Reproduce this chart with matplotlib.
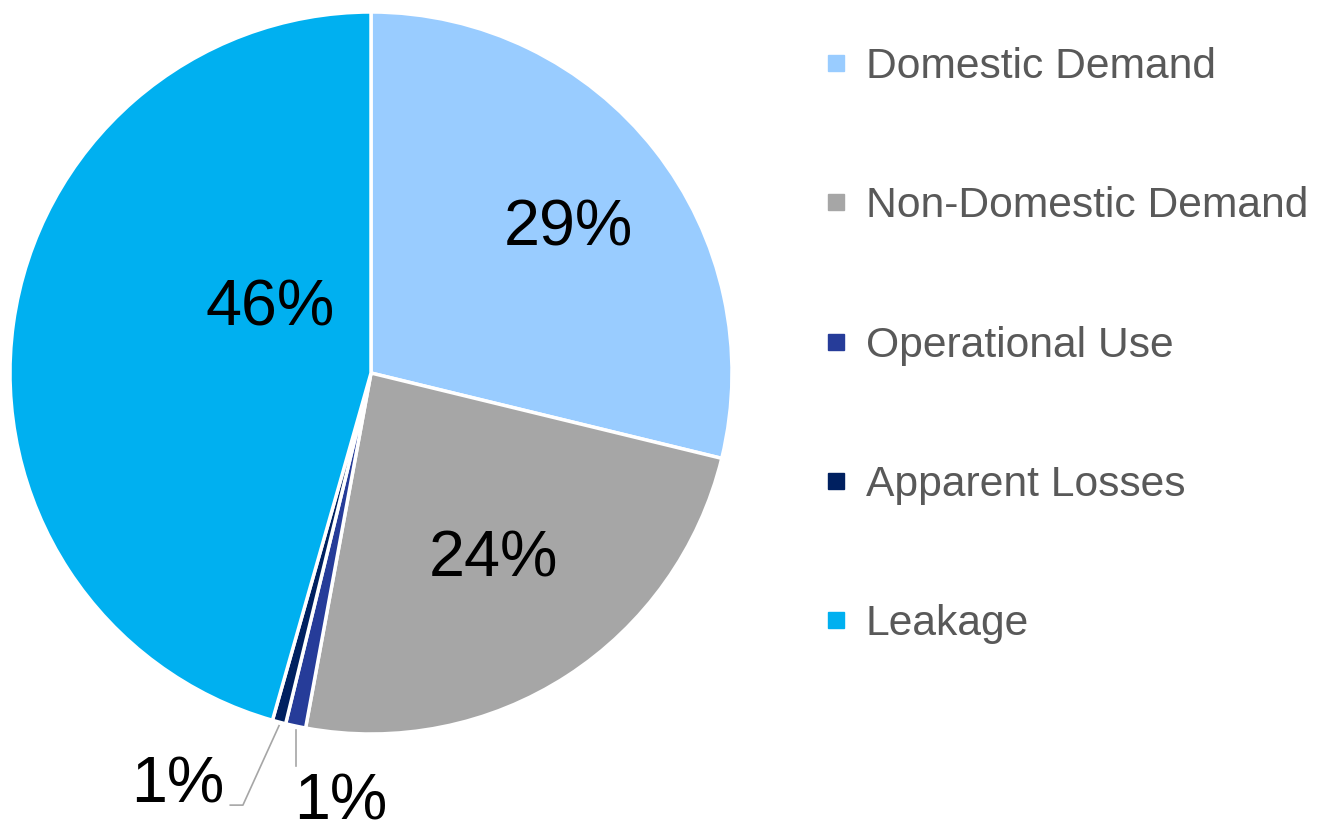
import matplotlib.pyplot as plt
from matplotlib.lines import Line2D
import numpy as np

plt.rcParams['font.family'] = ['Liberation Sans', 'DejaVu Sans']

# data
categories = ["Domestic Demand", "Non-Domestic Demand", "Operational Use",
              "Apparent Losses", "Leakage"]
shares = [28.8, 24.1, 0.9, 0.6, 45.6]
labels = ["29%", "24%", "1%", "1%", "46%"]
colors = ["#99CCFF", "#A6A6A6", "#263C99", "#002060", "#00B0F0"]

W, H = 1326, 830
cx, cy, R = 371, 373, 361

fig = plt.figure(figsize=(W / 100, H / 100), dpi=100)
ax = fig.add_axes([0, 0, 1, 1])

wedges, _ = ax.pie(shares, colors=colors, startangle=90, counterclock=False,
                   radius=1, wedgeprops=dict(edgecolor="white", linewidth=2.5))
ax.set_aspect("auto")
ax.set_xlim(-cx / R, (W - cx) / R)
ax.set_ylim(-(H - cy) / R, cy / R)
ax.axis("off")

def mid(w):
    return np.deg2rad((w.theta1 + w.theta2) / 2)

# big slices: labels inside
ax.text(0.548, 0.40, labels[0], ha="center", va="center", fontsize=46.5)
ax.text(0.338, -0.518, labels[1], ha="center", va="center", fontsize=46.5)
ax.text(-0.28, 0.18, labels[4], ha="center", va="center", fontsize=46.5)

# small slices: leader lines
a = mid(wedges[2])
x0, y0 = np.cos(a), np.sin(a)
ax.plot([x0, x0], [y0 - 0.01, y0 - 0.11], color="#A6A6A6", lw=1.2)
ax.text(x0 + 0.125, y0 - 0.212, labels[2], ha="center", va="center", fontsize=46.5)

a = mid(wedges[3])
x0, y0 = np.cos(a), np.sin(a)
ax.plot([x0, x0 - 0.1, x0 - 0.135], [y0 - 0.01, y0 - 0.23, y0 - 0.23],
        color="#A6A6A6", lw=1.2)
ax.text(x0 - 0.28, y0 - 0.175, labels[3], ha="center", va="center", fontsize=46.5)

handles = [Line2D([], [], marker="s", linestyle="none", markersize=12,
                  markerfacecolor=c, markeredgecolor=c) for c in colors]
leg = ax.legend(handles, categories, loc="upper left", bbox_to_anchor=(823 / W, 1 - 47 / H),
                bbox_transform=fig.transFigure, frameon=False, fontsize=30.7,
                labelspacing=2.33, handlelength=0.6, handletextpad=0.4,
                borderaxespad=0, borderpad=0)
for t in leg.get_texts():
    t.set_color("#595959")

fig.savefig("out.png", dpi=100)
